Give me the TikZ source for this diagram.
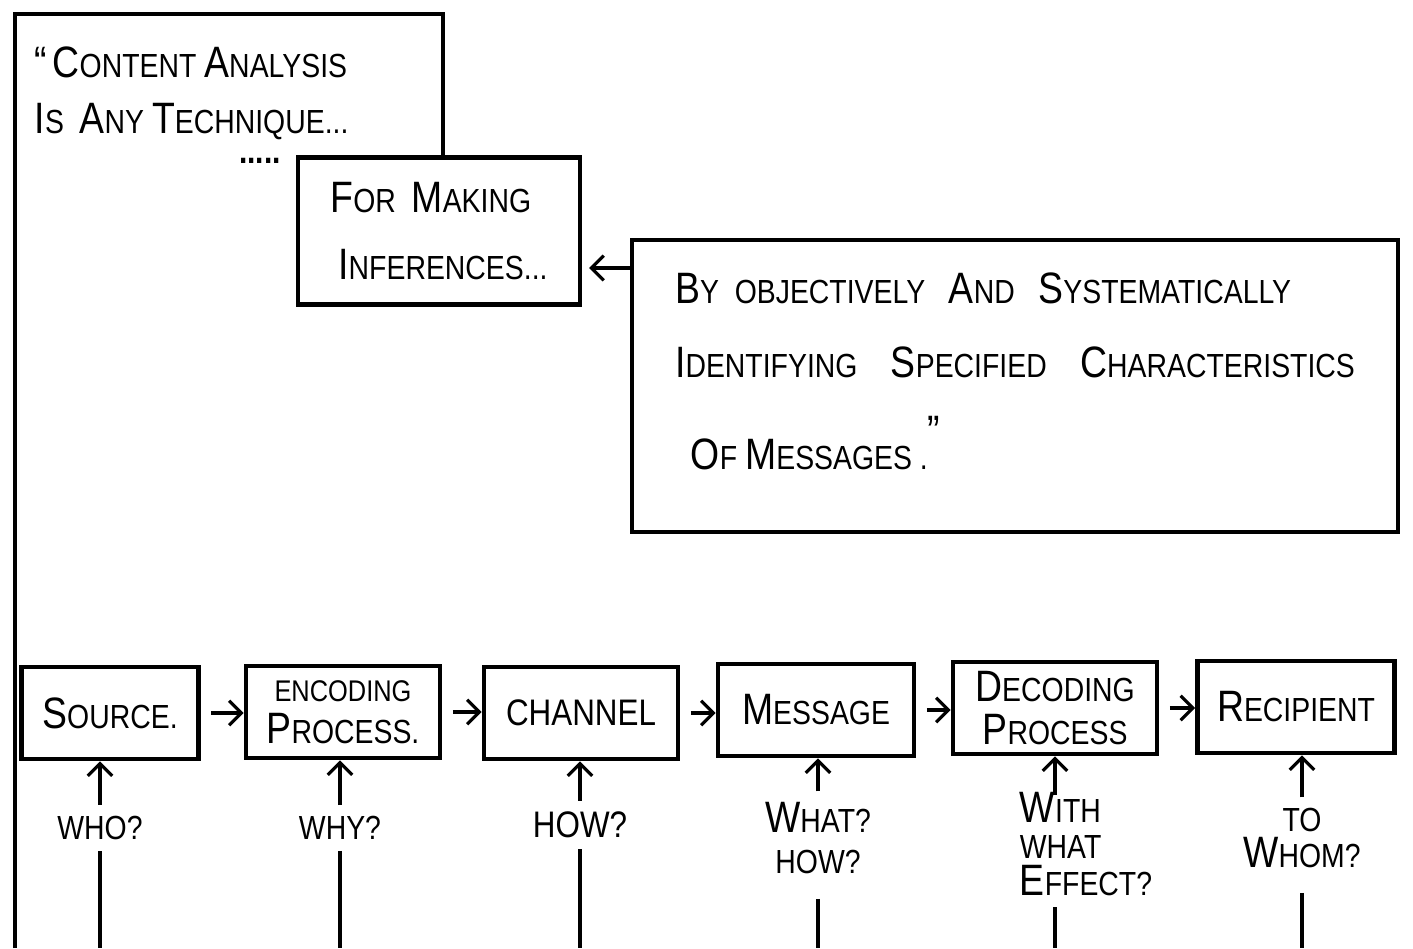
\documentclass[tikz,border=0pt]{standalone}
\usepackage{fontspec}
\setmainfont{Liberation Sans}[FakeStretch=0.85]
\usetikzlibrary{arrows.meta, positioning}
\newcommand\Ini[1]{{\fontsize{12.5}{12}\selectfont #1}}

\begin{document}
\begin{tikzpicture}[x=0.01cm, y=-0.01cm,
  >={Straight Barb[length=3.5pt,width=7pt]},
  frame/.style={line width=1pt},
  stage/.style={rectangle, draw, line width=1.3pt, minimum height=0.92cm,
                align=center, font=\fontsize{9.5}{12}\selectfont, inner sep=2pt},
  note/.style={rectangle, draw, line width=1.2pt, align=left,
               font=\fontsize{9.5}{13}\selectfont},
  ask/.style={align=center, font=\fontsize{9.5}{11.5}\selectfont, inner sep=3pt},
  arr/.style={->, line width=0.9pt},
  tail/.style={line width=0.9pt}
]
\useasboundingbox (0,0) rectangle (1413,948);

%% ---- Top: quotation frame ----
\coordinate (fBL) at (15,948);
\coordinate (fTL) at (15,14);
\coordinate (fTR) at (443,14);
\node[anchor=north west, align=left, inner sep=0pt,
      font=\fontsize{9.5}{15}\selectfont] (quote) at (34,46)
  {\Ini{``}\,\Ini{C}ONTENT \Ini{A}NALYSIS\\[1pt]
   \Ini{I}S \ \Ini{A}NY \Ini{T}ECHNIQUE...};
\node[font=\bfseries, inner sep=0pt] (dots) at (260,161) {.....};

\node[note, minimum width=2.82cm, minimum height=1.47cm] (infer) at (439,231)
  {\Ini{F}OR \ \Ini{M}AKING\\[6pt]
   \ \Ini{I}NFERENCES...};
\node[note, minimum width=7.66cm, minimum height=2.92cm] (objective) at (1015,386)
  {\Ini{B}Y \ OBJECTIVELY \ \ \Ini{A}ND \ \ \Ini{S}YSTEMATICALLY\\[8pt]
   \Ini{I}DENTIFYING\quad \Ini{S}PECIFIED\quad \Ini{C}HARACTERISTICS\\[10pt]
   \ \ \Ini{O}F \Ini{M}ESSAGES .\raisebox{1.3ex}{\Ini{''}}\\[-4.5pt]};

\draw[frame] (fBL) -- (fTL) -- (fTR) -- (fTR |- infer.north);
\coordinate (back) at (600,268);
\draw[arr] (back -| objective.west) -- ([xshift=2pt]back -| infer.east);

%% ---- Bottom row: the stages ----
\node[stage, minimum width=1.77cm] (source)    at ( 110,713) {\Ini{S}OURCE.};
\node[stage, minimum width=1.94cm] (encoding)  at ( 343,712)
  {{\fontsize{8.5}{10}\selectfont ENCODING}\\\Ini{P}ROCESS.};
\node[stage, minimum width=1.94cm, font=\fontsize{10.5}{12}\selectfont]
                                   (channel)   at ( 581,713) {CHANNEL};
\node[stage, minimum width=1.96cm] (message)   at ( 816,710) {\Ini{M}ESSAGE};
\node[stage, minimum width=2.04cm] (decoding)  at (1055,708)
  {\Ini{D}ECODING\\\Ini{P}ROCESS};
\node[stage, minimum width=1.97cm] (recipient) at (1296,707) {\Ini{R}ECIPIENT};

\draw[arr, shorten <=3pt] (source.east)   -- (source.east -| encoding.west);
\draw[arr, shorten <=3pt] (encoding.east) -- (encoding.east -| channel.west);
\draw[arr, shorten <=3pt] (channel.east)  -- (channel.east -| message.west);
\draw[arr, shorten <=3pt] (message.east)  -- (message.east -| decoding.west);
\draw[arr, shorten <=3pt] (decoding.east) -- (decoding.east -| recipient.west);

%% ---- Questions under the stages ----
\node[ask] (who)     at ( 100,828) {WHO?};
\node[ask] (why)     at ( 340,828) {WHY?};
\node[ask, font=\fontsize{10.5}{12}\selectfont] (how) at (580,825) {HOW?};
\node[ask] (whathow) at ( 818,838) {\Ini{W}HAT?\\HOW?};
\node[ask, align=left, font=\fontsize{9.5}{10.5}\selectfont]
           (effect)  at (1086,844) {\Ini{W}ITH\\ WHAT\\\Ini{E}FFECT?};
\node[ask, font=\fontsize{9.5}{10}\selectfont]
           (towhom)  at (1302,838) {TO\\\Ini{W}HOM?};

\draw[arr] (who.north)     -- (who.north |- source.south);
\draw[arr] (why.north)     -- (why.north |- encoding.south);
\draw[arr] (how.north)     -- (how.north |- channel.south);
\draw[arr] (whathow.north) -- (whathow.north |- message.south);
\draw[arr] ([yshift=-4pt]decoding.south |- effect.north) -- (decoding.south);
\draw[arr] (towhom.north)  -- (towhom.north |- recipient.south);

\draw[tail] (who.south)     -- (who.south |- fBL);
\draw[tail] (why.south)     -- (why.south |- fBL);
\draw[tail] (how.south)     -- (how.south |- fBL);
\draw[tail] ([yshift=-4pt]whathow.south) -- (whathow.south |- fBL);
\draw[tail] (decoding.south |- effect.south) -- (decoding.south |- fBL);
\draw[tail] ([yshift=-4pt]towhom.south) -- (towhom.south |- fBL);

\end{tikzpicture}
\end{document}
